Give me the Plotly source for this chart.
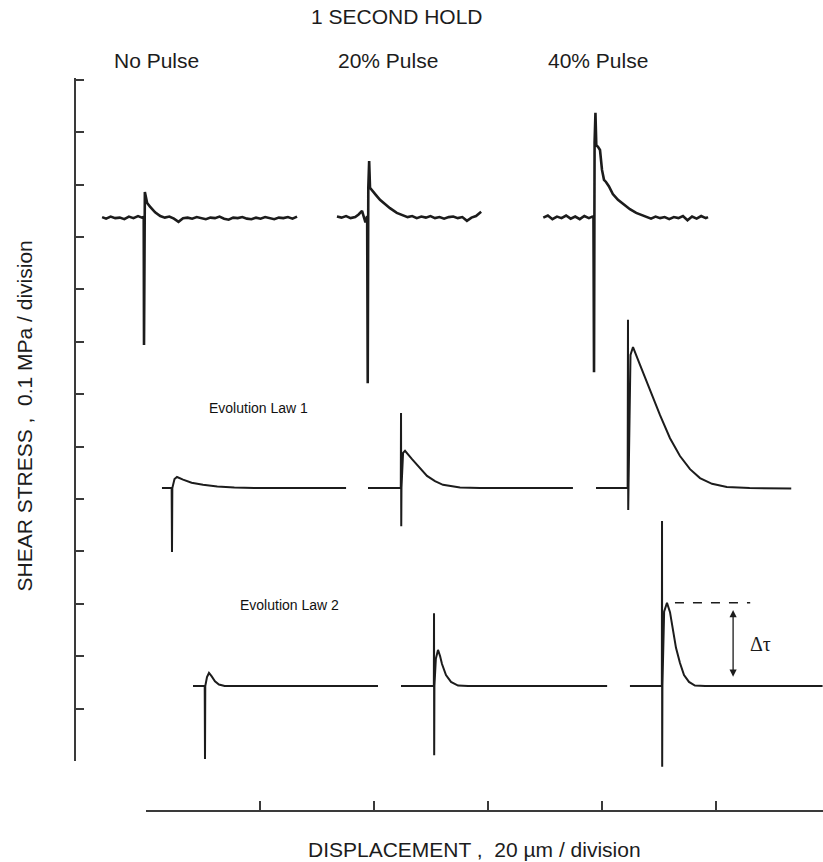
import plotly.graph_objects as go

# ---------------- data (x: displacement in um, y: shear stress in MPa) ----------------
# Row 1: experiments, 1 second hold
exp_nopulse_x = [-7.7, -7.0, -6.2, -5.4, -4.6, -3.8, -3.0, -2.2, -1.4, -0.7,
                 -0.4, -0.35, -0.2, 0.2, 0.7, 1.6, 2.5,
                 3.3, 4.1, 4.9, 5.7, 6.5, 7.3, 8.1, 8.9, 9.7, 10.5, 11.3, 12.1, 12.9, 13.7, 14.5,
                 15.3, 16.1, 16.9, 17.7, 18.5, 19.3, 20.1, 20.9, 21.7, 22.5, 23.3, 24.1, 24.9, 25.7, 26.5]
exp_nopulse_y = [1.038, 1.035, 1.039, 1.036, 1.037, 1.034, 1.039, 1.036, 1.040, 1.037,
                 1.038, 0.794, 1.086, 1.065, 1.058, 1.047, 1.040,
                 1.037, 1.039, 1.035, 1.029, 1.036, 1.037, 1.035, 1.038, 1.036, 1.034, 1.037, 1.036, 1.039, 1.035, 1.033,
                 1.037, 1.036, 1.038, 1.035, 1.034, 1.037, 1.035, 1.038, 1.036, 1.034, 1.037, 1.036, 1.038, 1.035, 1.039]

exp_20_x = [33.5, 34.3, 35.1, 35.9, 36.7, 37.3, 37.9, 38.5,
            38.8, 38.9, 39.0, 39.15, 39.3, 39.65, 40.35, 41.05, 41.9, 42.8, 44.0, 45.1,
            45.9, 46.7, 47.5, 48.3, 49.1, 49.9, 50.7, 51.5, 52.3, 53.1, 53.9, 54.7, 55.5, 56.3, 57.1, 57.9, 58.8]
exp_20_y = [1.039, 1.037, 1.040, 1.036, 1.038, 1.043, 1.050, 1.028,
            1.040, 0.721, 1.094, 1.145, 1.094, 1.090, 1.080, 1.071, 1.063, 1.055, 1.046, 1.042,
            1.038, 1.040, 1.036, 1.039, 1.037, 1.040, 1.036, 1.038, 1.035, 1.038, 1.039, 1.036, 1.038, 1.031, 1.037, 1.040, 1.048]

exp_40_x = [69.7, 70.5, 71.3, 72.1, 72.9, 73.7, 74.5, 75.3, 76.1, 76.9, 77.7, 78.3,
            78.5, 78.6, 78.7, 78.85, 79.0, 79.3, 79.65, 80.0, 80.35, 80.7, 81.2, 81.9, 82.8, 83.9, 84.9, 86.0, 87.0,
            87.8, 88.6, 89.4, 90.2, 91.0, 91.8, 92.6, 93.4, 94.2, 95.0, 95.8, 96.6, 97.4, 98.2, 98.6]
exp_40_y = [1.037, 1.041, 1.034, 1.039, 1.036, 1.041, 1.035, 1.039, 1.034, 1.040, 1.036, 1.039,
            1.038, 0.742, 1.181, 1.237, 1.175, 1.172, 1.166, 1.128, 1.109, 1.105, 1.097, 1.082, 1.071, 1.061, 1.053, 1.046, 1.042,
            1.038, 1.035, 1.039, 1.036, 1.038, 1.034, 1.038, 1.036, 1.040, 1.032, 1.039, 1.035, 1.040, 1.036, 1.038]

# Row 2: Evolution Law 1 model
law1_0_x = [2.8, 4.5, 4.56, 4.62, 5.0, 5.44, 6.5, 8.0, 10.0, 12.5, 15.5, 19.0, 35.1]
law1_0_y = [0.521, 0.521, 0.399, 0.521, 0.538, 0.542, 0.537, 0.531, 0.527, 0.524, 0.522, 0.521, 0.521]

law1_20_x = [38.95, 44.7, 44.74, 44.78, 44.82, 45.1, 45.44, 46.67, 48.07, 49.30, 50.7, 52.1, 55.09, 58.6, 74.9]
law1_20_y = [0.521, 0.521, 0.664, 0.448, 0.521, 0.588, 0.592, 0.576, 0.559, 0.544, 0.534, 0.527, 0.522, 0.521, 0.521]

law1_40_x = [78.95, 84.5, 84.56, 84.6, 84.65, 85.0, 85.44, 86.67, 88.42, 90.18, 91.93, 93.68, 95.44, 97.19, 99.3,
             101.9, 105.9, 113.2]
law1_40_y = [0.521, 0.521, 0.842, 0.479, 0.521, 0.775, 0.790, 0.756, 0.708, 0.660, 0.616, 0.582, 0.557, 0.540, 0.529,
             0.523, 0.521, 0.520]

# Row 3: Evolution Law 2 model
law2_0_x = [8.25, 10.3, 10.35, 10.4, 10.7, 11.05, 11.5, 12.1, 12.8, 13.8, 40.7]
law2_0_y = [0.143, 0.143, 0.004, 0.143, 0.160, 0.168, 0.162, 0.152, 0.146, 0.143, 0.143]

law2_20_x = [44.74, 50.5, 50.53, 50.56, 50.6, 50.85, 51.23, 51.6, 51.93, 52.63, 53.51, 54.74, 56.5, 80.9]
law2_20_y = [0.143, 0.143, 0.282, 0.011, 0.143, 0.195, 0.212, 0.200, 0.185, 0.164, 0.151, 0.144, 0.143, 0.143]

law2_40_x = [84.9, 90.5, 90.53, 90.56, 90.6, 90.9, 91.4, 91.93, 92.46, 92.98, 93.68, 94.39, 95.26, 96.3, 98.1, 118.7]
law2_40_y = [0.143, 0.143, 0.458, -0.011, 0.143, 0.285, 0.302, 0.284, 0.250, 0.216, 0.187, 0.164, 0.151, 0.144, 0.143, 0.143]

# delta-tau: stress peak after the pulse minus steady state (Evolution Law 2, 40% pulse)
dtau_peak = 0.302
dtau_base = 0.143

# tick values of the "division" axes
x_ticks_um = [0, 20, 40, 60, 80, 100]
y_ticks_mpa = [0.0, 0.1, 0.2, 0.3, 0.4, 0.5, 0.6, 0.7, 0.8, 0.9, 1.0, 1.1, 1.2, 1.3]

column_labels = ["No Pulse", "20% Pulse", "40% Pulse"]
row_labels = ["Evolution Law 1", "Evolution Law 2"]

# ---------------- figure ----------------
W, H = 823, 862
INK = "#1c1c1c"
AXC = "#3a3a3a"
FONT = "Liberation Sans, Arial, Helvetica, sans-serif"

fig = go.Figure()

exp_traces = [(exp_nopulse_x, exp_nopulse_y), (exp_20_x, exp_20_y), (exp_40_x, exp_40_y)]
model_traces = [(law1_0_x, law1_0_y), (law1_20_x, law1_20_y), (law1_40_x, law1_40_y),
                (law2_0_x, law2_0_y), (law2_20_x, law2_20_y), (law2_40_x, law2_40_y)]

for xs, ys in exp_traces:
    fig.add_trace(go.Scatter(x=xs, y=ys, mode="lines", line=dict(color=INK, width=2.6),
                             hoverinfo="skip", showlegend=False))
for xs, ys in model_traces:
    fig.add_trace(go.Scatter(x=xs, y=ys, mode="lines", line=dict(color=INK, width=2.0),
                             hoverinfo="skip", showlegend=False))

# delta-tau marker
fig.add_trace(go.Scatter(x=[92.8, 106.0], y=[dtau_peak, dtau_peak], mode="lines",
                         line=dict(color=INK, width=1.4, dash="dash"),
                         hoverinfo="skip", showlegend=False))
fig.add_annotation(x=103.0, y=dtau_peak - 0.014, ax=103.0, ay=dtau_base + 0.015,
                   xref="x", yref="y", axref="x", ayref="y", text="", showarrow=True,
                   arrowhead=2, arrowside="end+start", arrowsize=1.1, arrowwidth=1.3, arrowcolor=INK)
fig.add_annotation(x=105.6, y=(dtau_peak + dtau_base) / 2, xref="x", yref="y", text="Δτ",
                   showarrow=False, xanchor="left", yanchor="middle",
                   font=dict(family="Liberation Serif, Times New Roman, serif", size=20, color=INK))

# dummy trace to carry the visible division axes
fig.add_trace(go.Scatter(x=[None], y=[None], xaxis="x2", yaxis="y2", mode="lines",
                         hoverinfo="skip", showlegend=False))

# row labels
fig.add_annotation(x=19.65, y=0.674, xref="x", yref="y", text=row_labels[0], showarrow=False,
                   font=dict(family=FONT, size=14, color="#111111"))
fig.add_annotation(x=25.26, y=0.298, xref="x", yref="y", text=row_labels[1], showarrow=False,
                   font=dict(family=FONT, size=14, color="#111111"))

# titles
def paper_text(text, px, py, size=21, angle=0):
    fig.add_annotation(x=px / W, y=1 - py / H, xref="paper", yref="paper", text=text,
                       showarrow=False, textangle=angle, xanchor="center", yanchor="middle",
                       font=dict(family=FONT, size=size, color=INK))

paper_text("1 SECOND HOLD", 397, 16)
for lab, cx in zip(column_labels, [156, 387.5, 598]):
    paper_text(lab, cx, 61)
paper_text("SHEAR STRESS ,  0.1 MPa / division", 24, 416.5, angle=-90)
paper_text("DISPLACEMENT ,  20 µm / division", 474.5, 849)

# main (hidden) axes: full canvas, same scale as division axes
x_um_per_px = 20 / 114.0
y_mpa_per_px = 0.1 / 52.4
x0_px, y0_px = 146, 761
fig.update_layout(
    width=W, height=H, margin=dict(l=0, r=0, t=0, b=0),
    paper_bgcolor="white", plot_bgcolor="rgba(0,0,0,0)",
    xaxis=dict(domain=[0, 1], range=[-x0_px * x_um_per_px, (W - x0_px) * x_um_per_px],
               visible=False, fixedrange=True),
    yaxis=dict(domain=[0, 1], range=[-(H - y0_px) * y_mpa_per_px, y0_px * y_mpa_per_px],
               visible=False, fixedrange=True),
    xaxis2=dict(domain=[x0_px / W, 1], range=[0, (W - x0_px) * x_um_per_px], anchor="free",
                position=1 - 811 / H, showline=True, linecolor=AXC, linewidth=1.5,
                ticks="inside", ticklen=9, tickwidth=1.5, tickcolor=AXC, tickvals=x_ticks_um,
                showticklabels=False, showgrid=False, zeroline=False, fixedrange=True),
    yaxis2=dict(domain=[1 - y0_px / H, 1 - 78 / H], range=[0, (y0_px - 78) * y_mpa_per_px], anchor="free",
                position=75 / W, showline=True, linecolor=AXC, linewidth=1.5,
                ticks="inside", ticklen=8, tickwidth=1.5, tickcolor=AXC, tickvals=y_ticks_mpa,
                showticklabels=False, showgrid=False, zeroline=False, fixedrange=True),
    showlegend=False,
)

fig.write_html("out.html")
